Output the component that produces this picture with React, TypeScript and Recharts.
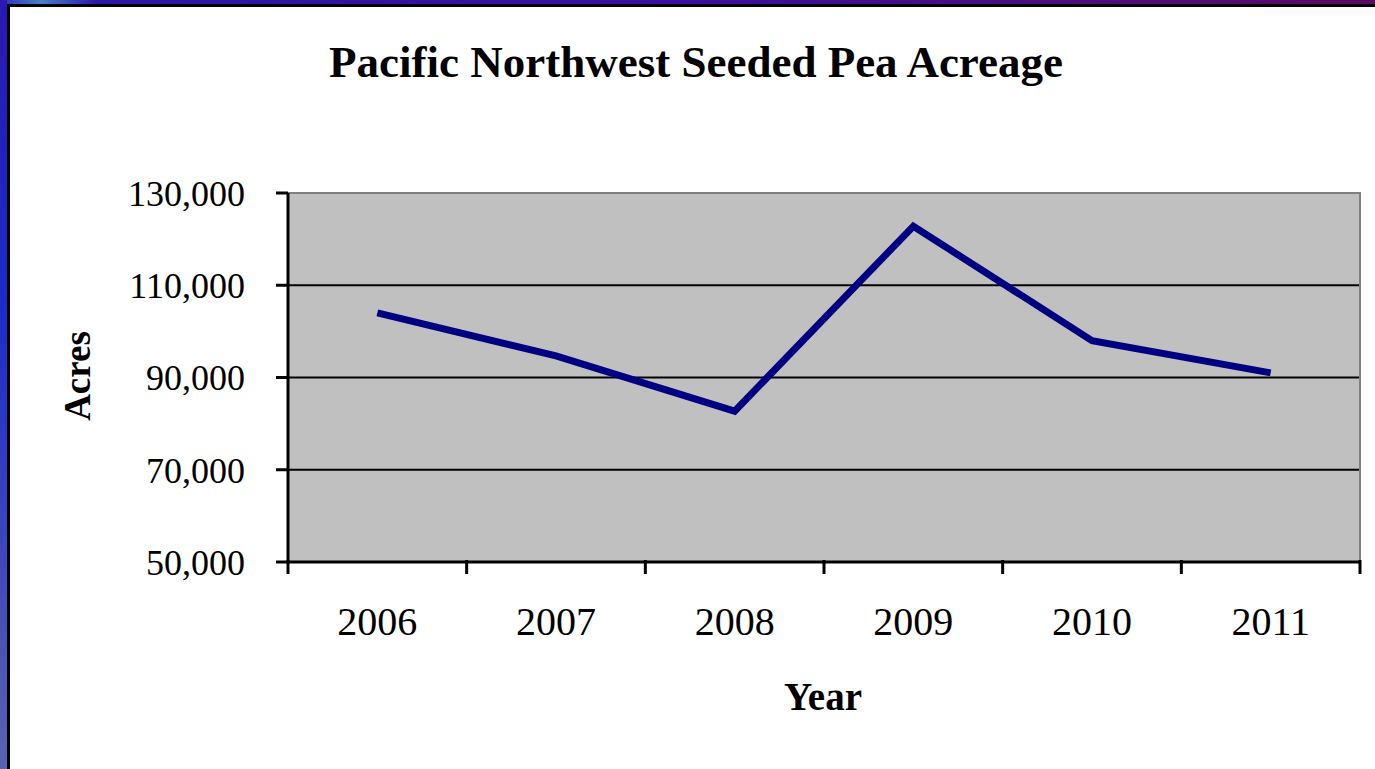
import React from 'react';
import { LineChart, Line, XAxis, YAxis, CartesianGrid, ReferenceArea } from 'recharts';

const years = ['2006', '2007', '2008', '2009', '2010', '2011'];
const acres = [104000, 94700, 82700, 122800, 98000, 91000];
const yTicks = [50000, 70000, 90000, 110000, 130000];
const gridValues = [70000, 90000, 110000];

const data = years.map((year, i) => ({ year, acres: acres[i] }));

const W = 1375;
const H = 769;
const MARGIN = { top: 193, right: 15, bottom: 107, left: 88 };
const Y_AXIS_W = 200;
const X_AXIS_H = 100;
const PLOT_W = W - MARGIN.left - MARGIN.right - Y_AXIS_W;
const BAND = PLOT_W / years.length;
const FONT = '"Liberation Serif", "Times New Roman", Times, serif';

function XTick(props: any) {
  const { x, y, payload, index } = props;
  const left = x - BAND / 2;
  const right = x + BAND / 2;
  return (
    <g>
      <line x1={left} y1={y - 2} x2={left} y2={y + 12} stroke="#000" strokeWidth={3} />
      {index === years.length - 1 && (
        <line x1={right} y1={y - 2} x2={right} y2={y + 12} stroke="#000" strokeWidth={3} />
      )}
      <text x={x} y={y + 73} textAnchor="middle" fontSize={40} fontFamily={FONT} fill="#000">
        {payload.value}
      </text>
    </g>
  );
}

export default function App() {
  return (
    <div
      style={{
        position: 'absolute',
        left: 0,
        top: 0,
        width: W,
        height: H,
        background: '#fff',
        overflow: 'hidden',
      }}
    >
      <LineChart width={W} height={H} data={data} margin={MARGIN}>
        <CartesianGrid
          vertical={false}
          horizontalValues={gridValues}
          stroke="#000"
          strokeWidth={2}
          fill="#c0c0c0"
          fillOpacity={1}
        />
        <ReferenceArea
          y1={50000}
          y2={130000}
          fill="none"
          stroke="#808080"
          strokeWidth={2}
          ifOverflow="visible"
        />
        <XAxis
          dataKey="year"
          scale="band"
          interval={0}
          height={X_AXIS_H}
          tickLine={false}
          tickSize={0}
          tickMargin={0}
          tick={<XTick />}
          axisLine={{ stroke: '#000', strokeWidth: 3 }}
        />
        <YAxis
          type="number"
          domain={[50000, 130000]}
          ticks={yTicks}
          width={Y_AXIS_W}
          tickSize={12}
          tickMargin={31}
          tickLine={{ stroke: '#000', strokeWidth: 3 }}
          axisLine={{ stroke: '#000', strokeWidth: 3 }}
          tick={{ fill: '#000', fontSize: 36, fontFamily: FONT }}
          tickFormatter={(v: number) => v.toLocaleString('en-US')}
        />
        <Line
          type="linear"
          dataKey="acres"
          stroke="#000080"
          strokeWidth={7}
          strokeLinejoin="miter"
          strokeLinecap="butt"
          dot={false}
          activeDot={false}
          isAnimationActive={false}
        />
      </LineChart>
      <svg
        width={W}
        height={H}
        style={{ position: 'absolute', left: 0, top: 0, pointerEvents: 'none' }}
      >
        <defs>
          <linearGradient id="topBand" x1="0" y1="0" x2="1" y2="0">
            <stop offset="0" stopColor="#2a30b8" />
            <stop offset="0.03" stopColor="#4a7ec8" />
            <stop offset="0.07" stopColor="#2c18a8" />
            <stop offset="0.5" stopColor="#3a10a0" />
            <stop offset="1" stopColor="#5a0c62" />
          </linearGradient>
          <linearGradient id="leftBand" x1="0" y1="0" x2="0" y2="1">
            <stop offset="0" stopColor="#2a18b0" />
            <stop offset="0.4" stopColor="#1c2cc8" />
            <stop offset="1" stopColor="#5c62b0" />
          </linearGradient>
        </defs>
        <rect x={0} y={0} width={W} height={4} fill="url(#topBand)" />
        <rect x={0} y={0} width={7} height={H} fill="url(#leftBand)" />
        <rect x={7} y={4} width={W - 7} height={3} fill="#000" />
        <rect x={7} y={4} width={3} height={H - 4} fill="#000" />
        <text
          x={696}
          y={77}
          textAnchor="middle"
          fontSize={45}
          fontWeight="bold"
          fontFamily={FONT}
          fill="#000"
        >
          Pacific Northwest Seeded Pea Acreage
        </text>
        <text
          x={823}
          y={710}
          textAnchor="middle"
          fontSize={39}
          fontWeight="bold"
          fontFamily={FONT}
          fill="#000"
        >
          Year
        </text>
        <text
          x={90}
          y={376}
          textAnchor="middle"
          fontSize={37}
          fontWeight="bold"
          fontFamily={FONT}
          fill="#000"
          transform="rotate(-90, 90, 376)"
        >
          Acres
        </text>
      </svg>
    </div>
  );
}
